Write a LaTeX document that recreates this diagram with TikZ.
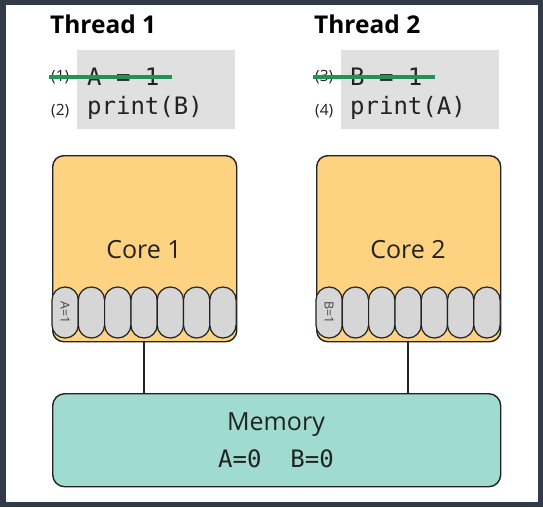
\documentclass[tikz,border=0pt]{standalone}
\usepackage{fontspec}
\setmainfont{Open Sans}
\setsansfont{Open Sans}
\setmonofont{DejaVu Sans Mono}
\definecolor{frame}{HTML}{303B47}
\definecolor{codebg}{HTML}{E0E0E0}
\definecolor{corefill}{HTML}{FDD281}
\definecolor{cellfill}{HTML}{D6D6D6}
\definecolor{memfill}{HTML}{A0DBD1}
\definecolor{strike}{HTML}{1F9454}
\definecolor{edge}{HTML}{222222}
\tikzset{
  title/.style={font=\fontsize{24.5}{28}\selectfont\bfseries, text=black, anchor=base west, inner sep=0},
  codebox/.style={fill=codebg, draw=none, anchor=north west, minimum width=158pt, minimum height=79pt, inner sep=0},
  num/.style={font=\fontsize{15.5}{18}\selectfont, text=edge, anchor=base west, inner sep=0},
  code/.style={font=\fontsize{24}{28}\selectfont\ttfamily, text=edge, anchor=base west, inner sep=0},
  core/.style={draw=edge, line width=1.4pt, fill=corefill, rounded corners=11pt, minimum width=184pt, minimum height=186pt, anchor=north west, inner sep=0},
  corelabel/.style={font=\fontsize{25}{30}\selectfont, text=edge, inner sep=0},
  cell/.style={draw=edge, line width=1.2pt, fill=cellfill, rounded corners=13pt, minimum width=26.3pt, minimum height=51pt, inner sep=0},
  celltext/.style={font=\fontsize{12.5}{14}\selectfont, text=edge!85, rotate=-90, inner sep=0},
  mem/.style={draw=edge, line width=1.4pt, fill=memfill, rounded corners=12pt, minimum width=448pt, minimum height=93pt, anchor=north west, inner sep=0},
  memlabel/.style={font=\fontsize{25}{30}\selectfont, text=edge, inner sep=0},
  memvals/.style={font=\fontsize{24}{28}\selectfont\ttfamily, text=edge, inner sep=0},
  link/.style={draw=edge, line width=1.3pt},
  strikeline/.style={draw=strike, line width=3.5pt}
}
\begin{document}
\begin{tikzpicture}[x=1pt,y=-1pt]
  \fill[frame] (0,0) rectangle (543,507);
  \fill[white] (6,5) rectangle (538,502);
  \useasboundingbox (0,0) rectangle (543,507);

  % Thread titles
  \node[title] (t1) at (50,33) {Thread 1};
  \node[title] (t2) at (314,33) {Thread 2};

  % code boxes
  \node[codebox] (cb1) at (77,50) {};
  \node[codebox] (cb2) at (341,50) {};

  \node[num] (n1) at (51,81) {(1)};
  \node[code] (l1) at (87,85) {A = 1};
  \node[num] (n2) at (51,115) {(2)};
  \node[code] (l2) at (87,114) {print(B)};

  \node[num] (n3) at (315,81) {(3)};
  \node[code] (l3) at (350,85) {B = 1};
  \node[num] (n4) at (315,115) {(4)};
  \node[code] (l4) at (350,114) {print(A)};

  \coordinate (s1a) at (49,77);
  \coordinate (s1b) at (172,77);
  \coordinate (s2a) at (313,77);
  \coordinate (s2b) at (435,77);
  \draw[strikeline] (s1a) -- (s1b);
  \draw[strikeline] (s2a) -- (s2b);

  % cores
  \node[core] (core1) at (52,155) {};
  \node[core] (core2) at (316,155) {};
  \node[corelabel] (cl1) at (144,250) {Core 1};
  \node[corelabel] (cl2) at (408,250) {Core 2};

  % cells
  \foreach \i in {0,...,6} {
    \node[cell] (ca\i) at ({52+13.15+\i*26.3},312.5) {};
    \node[cell] (cb\i) at ({316+13.15+\i*26.3},312.5) {};
  }
  \node[celltext] (ta) at (ca0) {A=1};
  \node[celltext] (tb) at (cb0) {B=1};

  % memory
  \node[mem] (mem) at (52,393) {};
  \node[memlabel] (ml) at (276,425) {Memory};
  \node[memvals] (mv) at (276,459) {A=0~~B=0};

  % links
  \draw[link] (core1.south -| ca3) -- (mem.north -| ca3);
  \draw[link] (core2.south -| cb3) -- (mem.north -| cb3);
\end{tikzpicture}
\end{document}
